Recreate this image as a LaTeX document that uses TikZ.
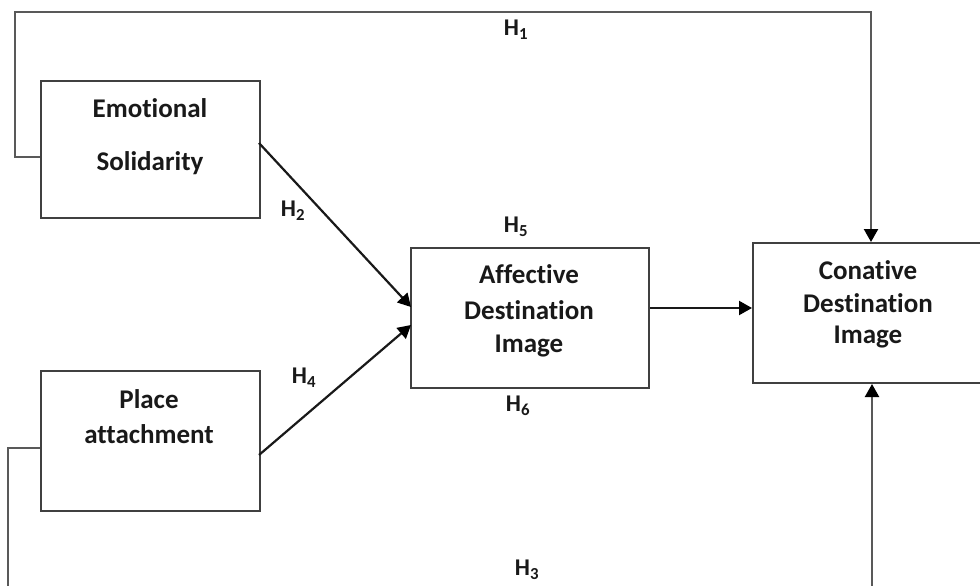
\documentclass[tikz,border=0pt]{standalone}
\usepackage{fontspec}
\setmainfont{Carlito}[Ligatures=NoCommon]
\usetikzlibrary{arrows.meta}
\begin{document}
\begin{tikzpicture}[x=1pt,y=-1pt,
  box/.style={draw=black!75, line width=2pt, rectangle, inner sep=0pt},
  txt/.style={font=\bfseries\fontsize{27}{30}\selectfont, inner sep=0pt, align=center, text=black!90},
  lbl/.style={font=\bfseries\fontsize{24}{26}\selectfont, inner sep=1pt, text=black!90},
  conn/.style={line width=2.2pt, draw=black!65},
  tip/.style={-{Triangle[length=13pt,width=14pt,color=black]}},
  arr/.style={line width=2.2pt, draw=black!90, tip}]
\useasboundingbox (0,0) rectangle (980,586);
\fill[white] (0,0) rectangle (980,586);
% boxes
\node[box, minimum width=219pt, minimum height=137pt, anchor=north west] (emo) at (40,80) {};
\node[txt] (emot) at (150,108) {Emotional};
\node[txt] (emos) at (150,163) {Solidarity};
\node[box, minimum width=219pt, minimum height=140pt, anchor=north west] (pla) at (40,370) {};
\node[txt] (plat1) at (149,399) {Place};
\node[txt] (plat2) at (149,434) {attachment};
\node[box, minimum width=238pt, minimum height=140pt, anchor=north west] (aff) at (410,247) {};
\node[txt] (aff1) at (529,274) {Affective};
\node[txt] (aff2) at (529,310) {Destination};
\node[txt] (aff3) at (529,346) {Image};
\node[box, minimum width=232pt, minimum height=140pt, anchor=north west] (con) at (752,242) {};
\node[txt] (con1) at (868,270) {Conative};
\node[txt] (con2) at (868,303) {Destination};
\node[txt] (con3) at (868,337) {Image};
% coordinates
\coordinate (e1) at (15,157);
\coordinate (e2) at (15,12);
\coordinate (e3) at (871,12);
\coordinate (p1) at (8,448);
\coordinate (p2) at (8,590);
\coordinate (c1) at (872,590);
\coordinate (es) at (259,143);
\coordinate (ps) at (259,455);
\coordinate (ae) at (411,307);
\coordinate (ap) at (411,325);
% connectors
\draw[conn, tip] (emo.west |- e1) -- (e1) -- (e2) -- (e3) -- (e3 |- con.north);
\draw[conn] (pla.west |- p1) -- (p1) -- (p2);
\draw[conn, tip] (c1) -- (c1 |- con.south);
\draw[arr] (es) -- (ae);
\draw[arr] (ps) -- (ap);
\draw[arr] (aff.east |- 0,308) -- (con.west |- 0,308);
% labels
\node[lbl] (h1) at (516,30) {H\textsubscript{1}};
\node[lbl] (h2) at (293,211) {H\textsubscript{2}};
\node[lbl] (h5) at (516,227) {H\textsubscript{5}};
\node[lbl] (h6) at (518,406) {H\textsubscript{6}};
\node[lbl] (h4) at (304,378) {H\textsubscript{4}};
\node[lbl] (h3) at (527,570) {H\textsubscript{3}};
\end{tikzpicture}
\end{document}
